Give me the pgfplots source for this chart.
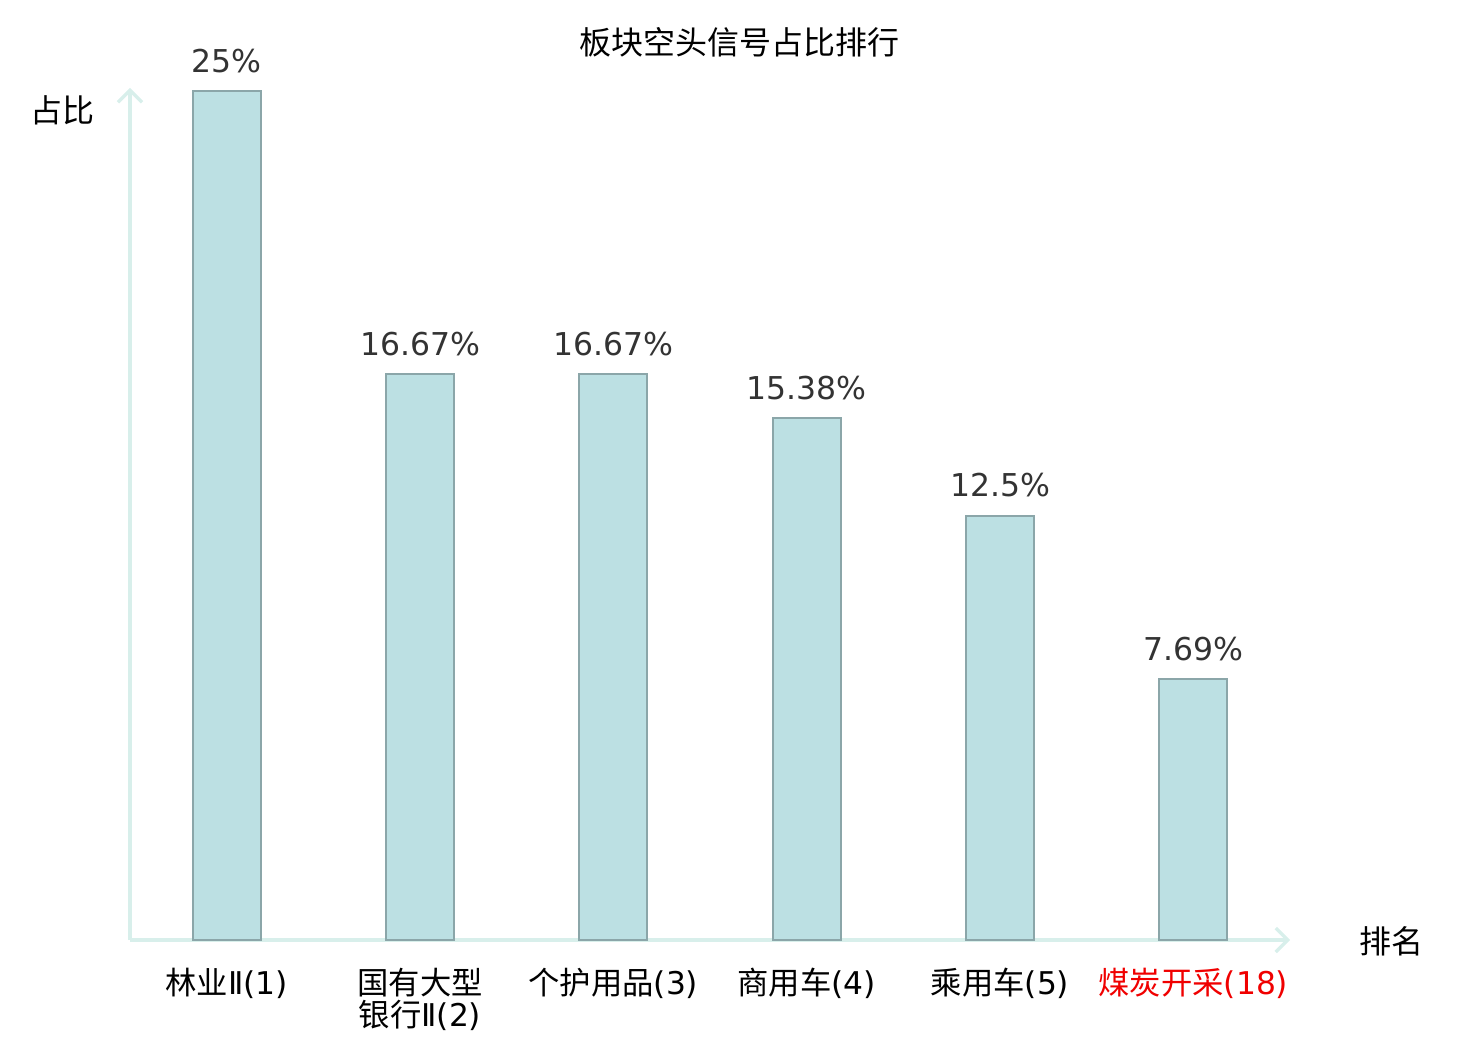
\documentclass[border=0pt]{standalone}
\usepackage{pgfplots}
\pgfplotsset{compat=1.18}
\usepackage{pgfplotstable}
\usepackage{fontspec}
\setmainfont{DejaVu Sans}
\newfontfamily\cjk{Noto Sans CJK SC}
\usetikzlibrary{arrows.meta}
\definecolor{barfill}{HTML}{BCE0E3}
\definecolor{bardraw}{HTML}{8BA6A9}
\definecolor{axcol}{HTML}{D8EFEB}
\definecolor{valcol}{HTML}{333333}
\definecolor{redlab}{HTML}{F00000}
\pgfplotstableread{
x y label
0 25 25
1 16.67 16.67
2 16.67 16.67
3 15.38 15.38
4 12.5 12.5
5 7.69 7.69
}\datatable
\begin{document}
\begin{tikzpicture}
\useasboundingbox (-97.5pt,-75pt) rectangle (1012.5pt,705pt);
\begin{axis}[
  at={(0,0)}, anchor=south west,
  scale only axis, width=870pt, height=639pt,
  xmin=-0.5, xmax=5.5, ymin=0, ymax=25.1,
  axis lines=left,
  axis line style={draw=axcol, line width=2.4pt, -{Straight Barb[length=9pt,width=18pt,line width=2.4pt]}},
  ytick=\empty,
  xtick={0,1,2,3,4,5},
  major tick length=0pt,
  xticklabels={
    {{\cjk 林业}Ⅱ(1)},
    {{\cjk 国有大型}\\{\cjk 银行}Ⅱ(2)},
    {{\cjk 个护用品}(3)},
    {{\cjk 商用车}(4)},
    {{\cjk 乘用车}(5)},
    {\color{redlab}{\cjk 煤炭开采}(18)}
  },
  xticklabel style={font=\fontsize{23.5}{24}\selectfont, align=center, anchor=north, inner sep=0pt, yshift=-21pt},
  clip=false,
  ybar, bar width=51pt,
  nodes near coords={\pgfplotspointmeta\%},
  point meta=explicit symbolic,
  every node near coord/.append style={font=\fontsize{23.6}{24}\selectfont, text=valcol, anchor=south, inner sep=0pt, yshift=13pt},
]
\addplot[fill=barfill, draw=bardraw, line width=1.5pt, bar shift=0pt] table[x=x, y=y, meta=label] {\datatable};
\end{axis}
\node[font=\fontsize{24}{24}\selectfont\cjk] at (456.75pt,673.5pt) {板块空头信号占比排行};
\node[font=\fontsize{24}{24}\selectfont\cjk] at (-50.25pt,622.5pt) {占比};
\node[font=\fontsize{24}{24}\selectfont\cjk] at (945.75pt,-0.75pt) {排名};
\end{tikzpicture}
\end{document}
